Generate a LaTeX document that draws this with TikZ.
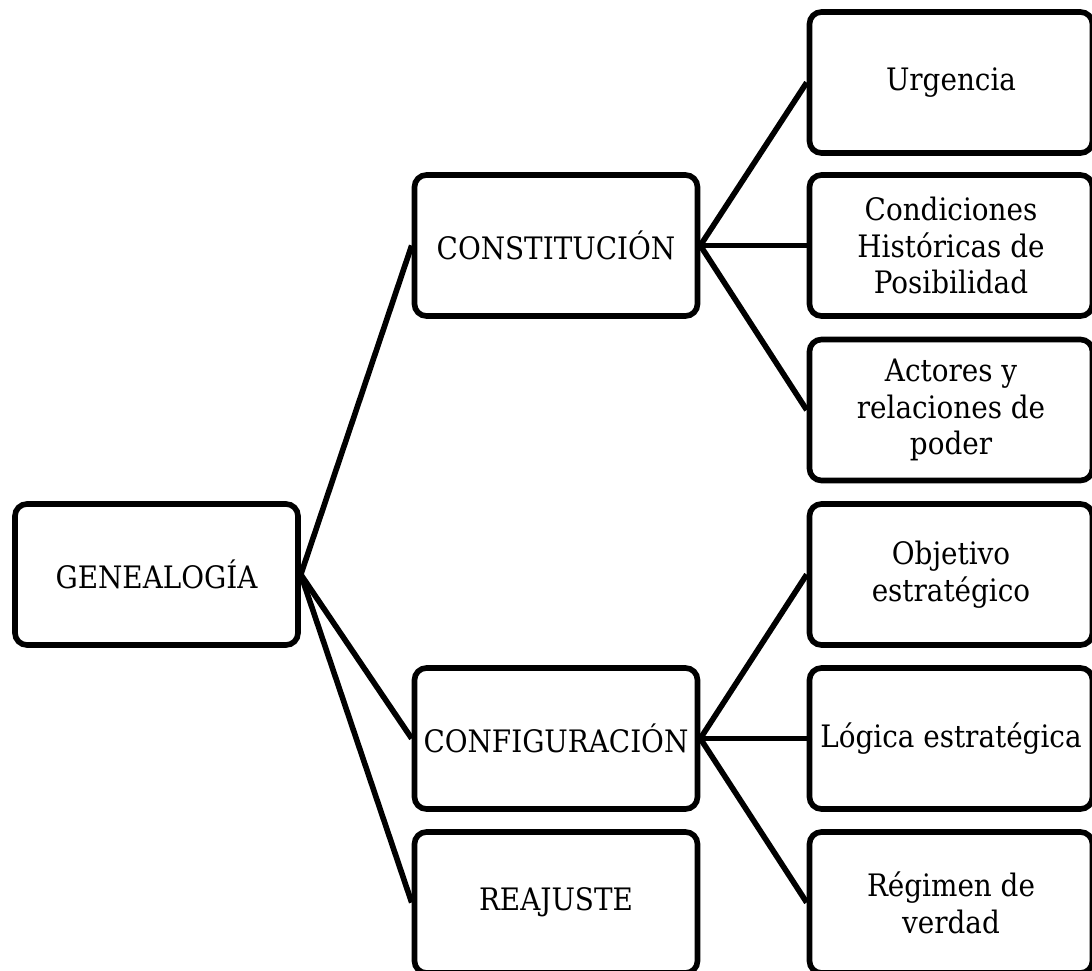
\documentclass[tikz,border=0pt]{standalone}
\usepackage{fontspec}
\setmainfont{DejaVu Serif Condensed}

\begin{document}
\begin{tikzpicture}[
        caja/.style={draw, line width=3.2pt, rounded corners=0.24cm,
            minimum width=5.66cm, minimum height=2.82cm, inner sep=0pt,
            align=center, font=\fontsize{17.6}{21}\selectfont},
        rama/.style={line width=3.2pt}
    ]
        \useasboundingbox (0,0) rectangle (21.84,-19.42);

        \node[caja] (gen) at (3.13,-11.49) {GENEALOGÍA};

        \node[caja] (cons) at (11.12,-4.91) {CONSTITUCIÓN};
        \node[caja] (conf) at (11.12,-14.77) {CONFIGURACIÓN};
        \node[caja] (reaj) at (11.12,-18.05) {REAJUSTE};

        \node[caja] (urg) at (19.02,-1.65) {Urgencia};
        \node[caja] (cond) at (19.02,-4.91) {Condiciones\\Históricas de\\Posibilidad};
        \node[caja] (act) at (19.02,-8.20) {Actores y\\relaciones de\\poder};

        \node[caja] (obj) at (19.02,-11.49) {Objetivo\\estratégico};
        \node[caja] (log) at (19.02,-14.77) {Lógica estratégica};
        \node[caja] (reg) at (19.02,-18.05) {Régimen de\\verdad};

        \draw[rama] (gen.east) -- (cons.west);
        \draw[rama] (gen.east) -- (conf.west);
        \draw[rama] (gen.east) -- (reaj.west);

        \draw[rama] (cons.east) -- (urg.west);
        \draw[rama] (cons.east) -- (cond.west);
        \draw[rama] (cons.east) -- (act.west);

        \draw[rama] (conf.east) -- (obj.west);
        \draw[rama] (conf.east) -- (log.west);
        \draw[rama] (conf.east) -- (reg.west);
    \end{tikzpicture}
\end{document}
